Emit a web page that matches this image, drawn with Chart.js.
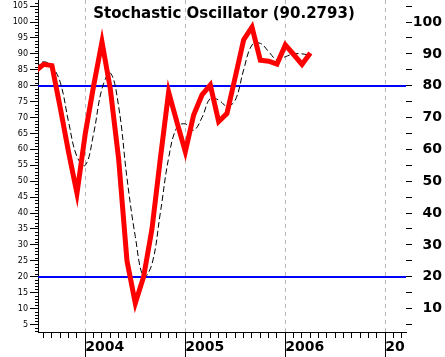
<!DOCTYPE html>
<html><head><meta charset="utf-8">
<script src="https://cdn.jsdelivr.net/npm/chart.js@4/dist/chart.umd.min.js"></script>
<style>html,body{margin:0;padding:0;background:#fff;}canvas{display:block}</style>
</head><body>
<canvas id="c" width="445" height="357"></canvas>
<script>
// ---- data (month index: 0 = Jan 2004) ----
const titleText = 'Stochastic Oscillator (90.2793)';
const months = [-6,-5,-4,-3,-2,-1,0,1,2,3,4,5,6,7,8,9,10,11,12,13,14,15,16,17,18,19,20,21,22,23,24,25,26,27];
const kValues = [84.5,86.7,86.3,73,59,46.2,65,80,93.8,79,57,25,11.7,20,35,57,78,68.5,59.3,70.8,77.1,80.2,68.7,71.3,82.8,94.4,98.4,88,87.7,86.8,92.8,89.8,86.7,90.28];
const dValues = [85.5,87.5,86,81,68.5,57.7,55,65,79,84,73.5,51,32.6,20,24,40,57.3,67,68,66,70,76,75.5,73.6,75.5,85,92.8,93.3,90.7,88.1,89.1,90,90,89.5];
const levelLines = [80, 20];
const yearTicks = [0, 12, 24, 36];
const yearLabels = ['2004', '2005', '2006', '20'];
const xRange = [-5.676, 38.48];
const yRange = [2.63, 106.92];

const kData = months.map((m, i) => ({x: m, y: kValues[i]}));
const dData = months.map((m, i) => ({x: m, y: dValues[i]}));

const zeroPad = s => { s.paddingTop = 0; s.paddingBottom = 0; s.paddingLeft = 0; s.paddingRight = 0; };

const decor = {
  id: 'decor',
  beforeDatasetsDraw(chart) {
    const {ctx, chartArea: a, scales: {y}} = chart;
    ctx.save();
    ctx.strokeStyle = '#0000ff';
    ctx.lineWidth = 2;
    levelLines.forEach(v => {
      const py = Math.round(y.getPixelForValue(v));
      ctx.beginPath(); ctx.moveTo(a.left, py); ctx.lineTo(a.right, py); ctx.stroke();
    });
    ctx.restore();
  },
  afterDraw(chart) {
    const {ctx, chartArea: a, scales: {x, y}} = chart;
    ctx.save();
    ctx.strokeStyle = '#000';
    ctx.lineWidth = 1;
    for (let v = Math.ceil(yRange[0]); v <= Math.floor(yRange[1]); v++) {
      if (v % 5 === 0) continue;
      const py = Math.round(y.getPixelForValue(v)) + 0.5;
      ctx.beginPath(); ctx.moveTo(a.left - 3, py); ctx.lineTo(a.left, py); ctx.stroke();
    }
    yearTicks.forEach(t => {
      const px = Math.round(x.getPixelForValue(t)) + 0.5;
      ctx.beginPath(); ctx.moveTo(px, a.bottom); ctx.lineTo(px, chart.height); ctx.stroke();
    });
    ctx.fillStyle = '#000';
    ctx.font = 'bold 15px "DejaVu Sans"';
    ctx.textAlign = 'center';
    ctx.textBaseline = 'alphabetic';
    ctx.fillText(titleText, (a.left + a.right) / 2 + 2, 18);
    ctx.restore();
  }
};

new Chart(document.getElementById('c'), {
  type: 'line',
  data: {
    datasets: [
      {data: kData, borderColor: '#ff0000', borderWidth: 5, pointRadius: 0, tension: 0, xAxisID: 'x', yAxisID: 'y', order: 1},
      {data: dData, borderColor: '#000000', borderWidth: 1, borderDash: [6, 3], pointRadius: 0, tension: 0.4, xAxisID: 'x', yAxisID: 'y', order: 2}
    ]
  },
  options: {
    responsive: false,
    animation: false,
    devicePixelRatio: 1,
    layout: {padding: {left: 0, top: 0, bottom: 0, right: 3}},
    plugins: {legend: {display: false}, tooltip: {enabled: false}, title: {display: false}},
    scales: {
      x: {
        type: 'linear', position: 'bottom', min: xRange[0], max: xRange[1],
        afterFit(s) { s.height = 25; zeroPad(s); },
        border: {display: true, color: '#000', width: 1, dash: [4, 4]},
        grid: {
          drawOnChartArea: true, drawTicks: true, tickLength: 6, tickColor: '#000',
          color: c => (c.tick && yearTicks.includes(c.tick.value)) ? '#b8b8b8' : 'rgba(0,0,0,0)'
        },
        ticks: {
          stepSize: 1, includeBounds: false, autoSkip: false, maxRotation: 0, minRotation: 0,
          align: 'start', padding: 1, color: '#000',
          font: {family: 'DejaVu Sans', size: 14, weight: 'bold'},
          callback: v => { const i = yearTicks.indexOf(v); return i >= 0 ? yearLabels[i] : ''; }
        }
      },
      y: {
        type: 'linear', position: 'left', min: yRange[0], max: yRange[1],
        afterFit(s) { s.width = 38; zeroPad(s); },
        border: {display: true, color: '#000', width: 1},
        grid: {drawOnChartArea: false, drawTicks: true, tickLength: 8, tickColor: '#000'},
        ticks: {
          stepSize: 5, includeBounds: false, autoSkip: false, padding: 2, color: '#000',
          font: {family: 'DejaVu Sans', size: 8}
        }
      },
      y2: {
        type: 'linear', axis: 'y', position: 'right', min: yRange[0], max: yRange[1],
        afterFit(s) { s.width = 36; zeroPad(s); },
        border: {display: false},
        grid: {drawOnChartArea: false, drawTicks: true, tickLength: 6, tickColor: '#000'},
        ticks: {
          stepSize: 5, includeBounds: false, autoSkip: false, padding: 1, crossAlign: 'far', color: '#000',
          font: {family: 'DejaVu Sans', size: 14, weight: 'bold'},
          callback: v => (v % 10 === 0 ? String(v) : '')
        }
      }
    }
  },
  plugins: [decor]
});
</script>
</body></html>
